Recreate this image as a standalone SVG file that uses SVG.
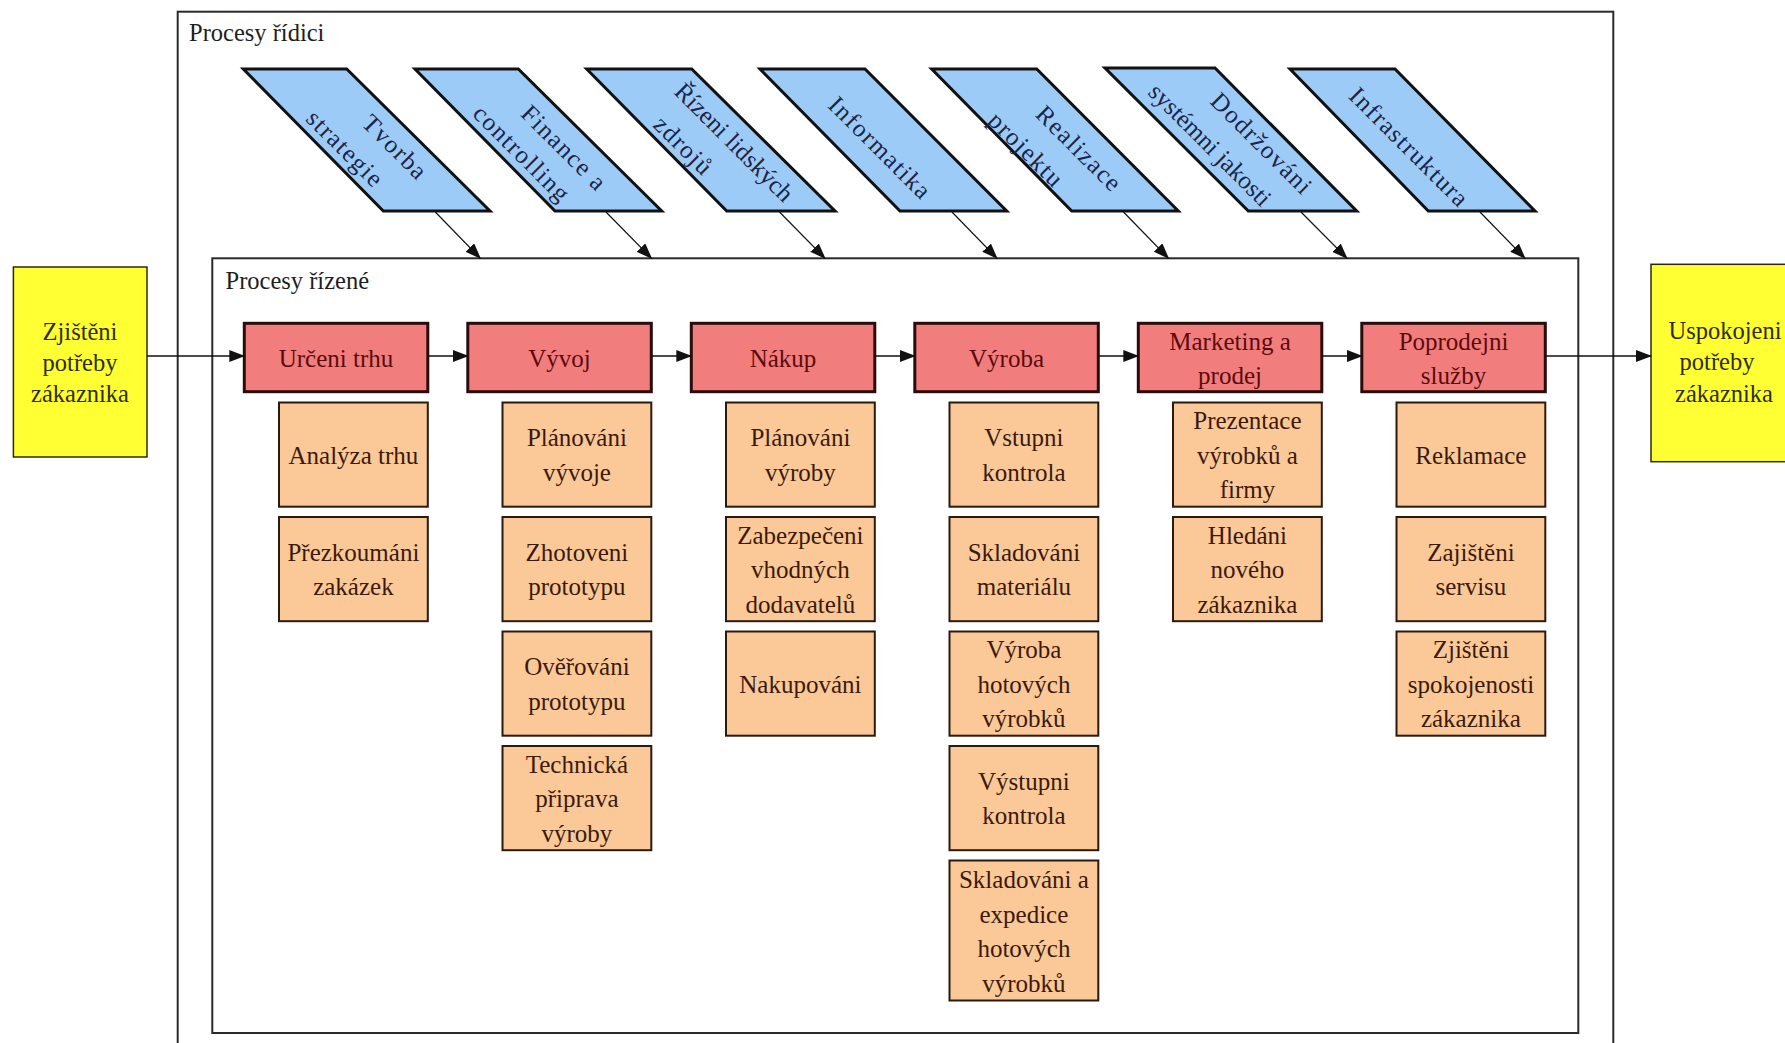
<svg xmlns="http://www.w3.org/2000/svg" width="1785" height="1043" viewBox="0 0 1785 1043">
  <defs>
    <marker id="head" markerUnits="userSpaceOnUse" markerWidth="16" markerHeight="12" refX="15" refY="6" orient="auto">
      <path d="M0,0 L16,6 L0,12 z" fill="#111"/>
    </marker>
    <style>
      text { font-family: "Liberation Serif", "Times New Roman", serif; font-size: 25px; text-anchor: middle; }
      .frame { fill: #fff; stroke: #2a2a2a; stroke-width: 2; }
      .title { text-anchor: start; fill: #1e1e1e; font-size: 24.5px; }
      .ctrl polygon { fill: #9ccbf7; stroke: #111; stroke-width: 3; stroke-linejoin: miter; }
      .ctrl text { fill: #1c2448; letter-spacing: 1.5px; }
      .ctrl text.tight { letter-spacing: 0; }
      .main rect { fill: #f17d7d; stroke: #2a0c0c; stroke-width: 3; }
      .main text { fill: #5a0c0c; }
      .sub rect { fill: #fbc897; stroke: #2a1a10; stroke-width: 2; }
      .sub text { fill: #3a1a0c; }
      .ext rect { fill: #ffff33; stroke: #2a2a10; stroke-width: 1.5; }
      .ext text { fill: #2e2e0a; font-size: 24.5px; }
      .flow line { stroke: #111; stroke-width: 1.6; marker-end: url(#head); }
      .feed line { stroke: #111; stroke-width: 1.2; marker-end: url(#head); }
    </style>
  </defs>

  <rect width="1785" height="1043" fill="#fff"/>

  <!-- outer frame: management processes -->
  <g id="procesy-ridici">
    <rect class="frame" x="177.7" y="11.7" width="1435.6" height="1050"/>
    <text class="title" x="189" y="41">Procesy řídici</text>
  </g>

  <!-- inner frame: managed processes -->
  <g id="procesy-rizene">
    <rect class="frame" x="212.3" y="258.3" width="1366" height="774.7"/>
    <text class="title" x="225.5" y="289">Procesy řízené</text>
  </g>

  <!-- management processes (parallelograms) -->
  <g class="ctrl">
    <g id="tvorba-strategie">
      <polygon points="243.3,69 346.7,69 490,211 383.3,211"/>
      <g transform="translate(365.8,140) rotate(45)">
        <text x="25.9" y="-7.3">Tvorba</text>
        <text x="-8.3" y="29.1">strategie</text>
      </g>
    </g>
    <g id="finance-controlling">
      <polygon points="415,69 518.3,69 661.7,211 555,211"/>
      <g transform="translate(537.5,140) rotate(45)">
        <text x="24.6" y="-4.9">Finance a</text>
        <text x="-1.3" y="29.1">controlling</text>
      </g>
    </g>
    <g id="rizeni-lidskych-zdroju">
      <polygon points="586.7,69 691.7,69 835,211 726.7,211"/>
      <g transform="translate(710,140) rotate(45)">
        <text class="tight" x="18.7" y="-7.2">Řízeni lidských</text>
        <text x="-14.6" y="31.1">zdrojů</text>
      </g>
    </g>
    <g id="informatika">
      <polygon points="760,69 865,69 1006.7,211 900,211"/>
      <g transform="translate(882.9,140) rotate(45)">
        <text x="3.8" y="15.9">Informatika</text>
      </g>
    </g>
    <g id="realizace-projektu">
      <polygon points="931.7,69 1036.7,69 1178.3,211 1071.7,211"/>
      <g transform="translate(1054.6,140) rotate(45)">
        <text x="23.6" y="-2.9">Realizace</text>
        <text x="-13.1" y="35.3">projektu</text>
      </g>
    </g>
    <g id="dodrzovani-jakosti">
      <polygon points="1105,68 1215,68 1356.7,211 1248.3,211"/>
      <g transform="translate(1231.25,140) rotate(45)">
        <text x="24.3" y="-10.7">Dodržováni</text>
        <text class="tight" x="-11.5" y="26.6">systémni jakosti</text>
      </g>
    </g>
    <g id="infrastruktura">
      <polygon points="1290,69 1395,69 1535,211 1428.3,211"/>
      <g transform="translate(1412.1,140) rotate(45)">
        <text x="3.2" y="15.4">Infrastruktura</text>
      </g>
    </g>
  </g>

  <!-- customer need / satisfaction -->
  <g class="ext">
    <g id="zjisteni-potreby">
      <rect x="13.4" y="267" width="133.6" height="190"/>
      <text x="80" y="340">Zjištěni</text>
      <text x="80" y="371">potřeby</text>
      <text x="80" y="402">zákaznika</text>
    </g>
    <g id="uspokojeni-potreby">
      <rect x="1651" y="264.3" width="150" height="197.4"/>
      <text x="1725" y="338.5">Uspokojeni</text>
      <text x="1717" y="370">potřeby</text>
      <text x="1724" y="401.5">zákaznika</text>
    </g>
  </g>

  <!-- main process chain -->
  <g class="main">
    <g id="urceni-trhu">
      <rect x="244.3" y="323.3" width="183.5" height="68.4"/>
      <text x="336" y="366.5">Určeni trhu</text>
    </g>
    <g id="vyvoj">
      <rect x="467.8" y="323.3" width="183.5" height="68.4"/>
      <text x="559.5" y="366.5">Vývoj</text>
    </g>
    <g id="nakup">
      <rect x="691.3" y="323.3" width="183.5" height="68.4"/>
      <text x="783" y="366.5">Nákup</text>
    </g>
    <g id="vyroba">
      <rect x="914.8" y="323.3" width="183.5" height="68.4"/>
      <text x="1006.5" y="366.5">Výroba</text>
    </g>
    <g id="marketing-prodej">
      <rect x="1138.3" y="323.3" width="183.5" height="68.4"/>
      <text x="1230" y="349.5">Marketing a</text>
      <text x="1230" y="384">prodej</text>
    </g>
    <g id="poprodejni-sluzby">
      <rect x="1361.8" y="323.3" width="183.5" height="68.4"/>
      <text x="1453.5" y="349.5">Poprodejni</text>
      <text x="1453.5" y="384">služby</text>
    </g>
  </g>

  <!-- sub-activities -->
  <g class="sub">
    <!-- Určeni trhu -->
    <g id="analyza-trhu">
      <rect x="279" y="402.5" width="148.8" height="104.2"/>
      <text x="353.4" y="463.6">Analýza trhu</text>
    </g>
    <g id="prezkoumani-zakazek">
      <rect x="279" y="517" width="148.8" height="104.2"/>
      <text x="353.4" y="560.9">Přezkoumáni</text>
      <text x="353.4" y="595.4">zakázek</text>
    </g>

    <!-- Vývoj -->
    <g id="planovani-vyvoje">
      <rect x="502.5" y="402.5" width="148.8" height="104.2"/>
      <text x="576.9" y="446.4">Plánováni</text>
      <text x="576.9" y="480.9">vývoje</text>
    </g>
    <g id="zhotoveni-prototypu">
      <rect x="502.5" y="517" width="148.8" height="104.2"/>
      <text x="576.9" y="560.9">Zhotoveni</text>
      <text x="576.9" y="595.4">prototypu</text>
    </g>
    <g id="overovani-prototypu">
      <rect x="502.5" y="631.5" width="148.8" height="104.2"/>
      <text x="576.9" y="675.4">Ověřováni</text>
      <text x="576.9" y="709.9">prototypu</text>
    </g>
    <g id="technicka-priprava">
      <rect x="502.5" y="746" width="148.8" height="104.2"/>
      <text x="576.9" y="772.6">Technická</text>
      <text x="576.9" y="807.1">připrava</text>
      <text x="576.9" y="841.6">výroby</text>
    </g>

    <!-- Nákup -->
    <g id="planovani-vyroby">
      <rect x="726" y="402.5" width="148.8" height="104.2"/>
      <text x="800.4" y="446.4">Plánováni</text>
      <text x="800.4" y="480.9">výroby</text>
    </g>
    <g id="zabezpeceni-dodavatelu">
      <rect x="726" y="517" width="148.8" height="104.2"/>
      <text x="800.4" y="543.6">Zabezpečeni</text>
      <text x="800.4" y="578.1">vhodných</text>
      <text x="800.4" y="612.6">dodavatelů</text>
    </g>
    <g id="nakupovani">
      <rect x="726" y="631.5" width="148.8" height="104.2"/>
      <text x="800.4" y="692.6">Nakupováni</text>
    </g>

    <!-- Výroba -->
    <g id="vstupni-kontrola">
      <rect x="949.5" y="402.5" width="148.8" height="104.2"/>
      <text x="1023.9" y="446.4">Vstupni</text>
      <text x="1023.9" y="480.9">kontrola</text>
    </g>
    <g id="skladovani-materialu">
      <rect x="949.5" y="517" width="148.8" height="104.2"/>
      <text x="1023.9" y="560.9">Skladováni</text>
      <text x="1023.9" y="595.4">materiálu</text>
    </g>
    <g id="vyroba-hotovych">
      <rect x="949.5" y="631.5" width="148.8" height="104.2"/>
      <text x="1023.9" y="658.1">Výroba</text>
      <text x="1023.9" y="692.6">hotových</text>
      <text x="1023.9" y="727.1">výrobků</text>
    </g>
    <g id="vystupni-kontrola">
      <rect x="949.5" y="746" width="148.8" height="104.2"/>
      <text x="1023.9" y="789.9">Výstupni</text>
      <text x="1023.9" y="824.4">kontrola</text>
    </g>
    <g id="skladovani-expedice">
      <rect x="949.5" y="860.5" width="148.8" height="140"/>
      <text x="1023.9" y="888">Skladováni a</text>
      <text x="1023.9" y="922.5">expedice</text>
      <text x="1023.9" y="957">hotových</text>
      <text x="1023.9" y="991.5">výrobků</text>
    </g>

    <!-- Marketing a prodej -->
    <g id="prezentace-vyrobku">
      <rect x="1173" y="402.5" width="148.8" height="104.2"/>
      <text x="1247.4" y="429.1">Prezentace</text>
      <text x="1247.4" y="463.6">výrobků a</text>
      <text x="1247.4" y="498.1">firmy</text>
    </g>
    <g id="hledani-zakaznika">
      <rect x="1173" y="517" width="148.8" height="104.2"/>
      <text x="1247.4" y="543.6">Hledáni</text>
      <text x="1247.4" y="578.1">nového</text>
      <text x="1247.4" y="612.6">zákaznika</text>
    </g>

    <!-- Poprodejni služby -->
    <g id="reklamace">
      <rect x="1396.5" y="402.5" width="148.8" height="104.2"/>
      <text x="1470.9" y="463.6">Reklamace</text>
    </g>
    <g id="zajisteni-servisu">
      <rect x="1396.5" y="517" width="148.8" height="104.2"/>
      <text x="1470.9" y="560.9">Zajištěni</text>
      <text x="1470.9" y="595.4">servisu</text>
    </g>
    <g id="zjisteni-spokojenosti">
      <rect x="1396.5" y="631.5" width="148.8" height="104.2"/>
      <text x="1470.9" y="658.1">Zjištěni</text>
      <text x="1470.9" y="692.6">spokojenosti</text>
      <text x="1470.9" y="727.1">zákaznika</text>
    </g>
  </g>

  <!-- connectors -->
  <g id="connectors">
    <g class="flow">
      <line x1="147" y1="356" x2="244.3" y2="356"/>
      <line x1="427.8" y1="356" x2="467.8" y2="356"/>
      <line x1="651.3" y1="356" x2="691.3" y2="356"/>
      <line x1="874.8" y1="356" x2="914.8" y2="356"/>
      <line x1="1098.3" y1="356" x2="1138.3" y2="356"/>
      <line x1="1321.8" y1="356" x2="1361.8" y2="356"/>
      <line x1="1545.3" y1="356" x2="1651" y2="356"/>
    </g>
    <g class="feed">
      <line x1="435.3" y1="212" x2="480.3" y2="258.3"/>
      <line x1="606" y1="212" x2="651.5" y2="258.3"/>
      <line x1="779.5" y1="212" x2="825" y2="258.3"/>
      <line x1="952" y1="212" x2="997" y2="258.3"/>
      <line x1="1123.5" y1="212" x2="1168.5" y2="258.3"/>
      <line x1="1301" y1="212" x2="1347" y2="258.3"/>
      <line x1="1480" y1="212" x2="1525" y2="258.3"/>
    </g>
  </g>
</svg>
